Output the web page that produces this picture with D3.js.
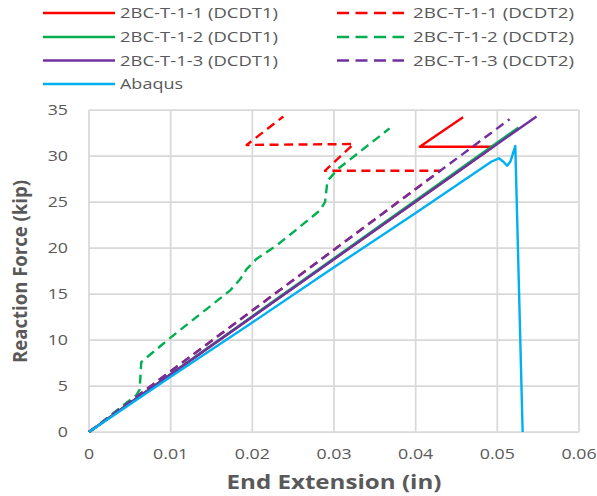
<!DOCTYPE html>
<html>
<head>
<meta charset="utf-8">
<script src="https://cdn.jsdelivr.net/npm/d3@7"></script>
<style>
  html, body { margin: 0; padding: 0; background: #fff; }
  svg { display: block; }
  text { font-family: "Open Sans", sans-serif; fill: #595959; }
</style>
</head>
<body>
<svg id="chart" width="597" height="496"></svg>
<script>
// ---- data ----
const xTicks = [0, 0.01, 0.02, 0.03, 0.04, 0.05, 0.06];
const xTickLabels = ["0", "0.01", "0.02", "0.03", "0.04", "0.05", "0.06"];
const yTicks = [0, 5, 10, 15, 20, 25, 30, 35];
const yTickLabels = ["0", "5", "10", "15", "20", "25", "30", "35"];

const seriesNames = [
  "2BC-T-1-1 (DCDT1)", "2BC-T-1-1 (DCDT2)",
  "2BC-T-1-2 (DCDT1)", "2BC-T-1-2 (DCDT2)",
  "2BC-T-1-3 (DCDT1)", "2BC-T-1-3 (DCDT2)",
  "Abaqus"
];
const seriesColors = ["#ff0000", "#ff0000", "#00b050", "#00b050", "#7030a0", "#7030a0", "#00b0f0"];
const seriesDashed = [false, true, false, true, false, true, false];

// [extension (in), force (kip)]
const t11_dcdt1 = [[0, 0], [0.0495, 31.0], [0.0405, 31.0], [0.0458, 34.2]];
const t11_dcdt2 = [[0, 0], [0.0430, 28.4], [0.0289, 28.4], [0.0324, 31.3], [0.0193, 31.2], [0.0238, 34.3]];
const t12_dcdt1 = [[0, 0], [0.0526, 33.1]];
const t12_dcdt2 = [[0, 0], [0.0058, 4.0], [0.0062, 4.6], [0.0064, 7.6], [0.0099, 10.2], [0.0173, 15.4],
                   [0.0185, 16.6], [0.0193, 17.7], [0.0205, 18.8], [0.0230, 20.3], [0.0254, 22.0],
                   [0.0283, 24.1], [0.0289, 25.0], [0.0292, 27.3], [0.0305, 28.6], [0.0368, 33.0]];
const t13_dcdt1 = [[0, 0], [0.0548, 34.3]];
const t13_dcdt2 = [[0, 0], [0.0515, 34.0]];
const abaqus = [[0, 0], [0.01, 6.0], [0.02, 11.9], [0.03, 17.9], [0.04, 23.8], [0.0493, 29.4],
                [0.0502, 29.75], [0.0507, 29.4], [0.0512, 28.95], [0.0516, 29.4], [0.0522, 31.1],
                [0.0531, 0]];

const seriesData = [t11_dcdt1, t11_dcdt2, t12_dcdt1, t12_dcdt2, t13_dcdt1, t13_dcdt2, abaqus];

// ---- drawing ----
const svg = d3.select("#chart");
const x = d3.scaleLinear().domain([0, 0.06]).range([89, 579]);
const y = d3.scaleLinear().domain([0, 35]).range([432, 110]);
const SX = 1.27; // horizontal text stretch of the reference

// grid
const grid = svg.append("g");
grid.selectAll("line.v").data(xTicks).join("line")
  .attr("x1", d => x(d)).attr("x2", d => x(d))
  .attr("y1", y(0)).attr("y2", y(35))
  .attr("stroke", "#d9d9d9").attr("stroke-width", 1.75);
grid.selectAll("line.h").data(yTicks).join("line")
  .attr("x1", x(0)).attr("x2", x(0.06))
  .attr("y1", d => y(d)).attr("y2", d => y(d))
  .attr("stroke", "#d9d9d9").attr("stroke-width", 1.75);

// tick labels
svg.append("g").selectAll("text").data(xTicks).join("text")
  .attr("transform", d => `translate(${x(d)},459) scale(${SX},1)`)
  .attr("text-anchor", "middle")
  .attr("font-size", 14)
  .text((d, i) => xTickLabels[i]);
svg.append("g").selectAll("text").data(yTicks).join("text")
  .attr("transform", d => `translate(68,${y(d) + 5}) scale(${SX},1)`)
  .attr("text-anchor", "end")
  .attr("font-size", 14)
  .text((d, i) => yTickLabels[i]);

// axis titles
svg.append("text")
  .attr("x", 334).attr("y", 489)
  .attr("text-anchor", "middle")
  .attr("font-size", 19).attr("font-weight", "bold")
  .attr("textLength", 215).attr("lengthAdjust", "spacingAndGlyphs")
  .text("End Extension (in)");
svg.append("text")
  .attr("transform", "translate(27,271.5) rotate(-90)")
  .attr("text-anchor", "middle")
  .attr("font-size", 19).attr("font-weight", "bold")
  .attr("textLength", 183).attr("lengthAdjust", "spacingAndGlyphs")
  .text("Reaction Force (kip)");

// series
const line = d3.line().x(d => x(d[0])).y(d => y(d[1]));
const plot = svg.append("g");
seriesData.forEach((data, i) => {
  plot.append("path")
    .attr("d", line(data))
    .attr("fill", "none")
    .attr("stroke", seriesColors[i])
    .attr("stroke-width", 2.4)
    .attr("stroke-linejoin", "round")
    .attr("stroke-dasharray", seriesDashed[i] ? "9,5.5" : null);
});

// legend
const legendRows = [13, 37, 60.5, 84];
const legendItems = [
  {s: 0, col: 0, row: 0}, {s: 1, col: 1, row: 0},
  {s: 2, col: 0, row: 1}, {s: 3, col: 1, row: 1},
  {s: 4, col: 0, row: 2}, {s: 5, col: 1, row: 2},
  {s: 6, col: 0, row: 3}
];
const colLine = [[43, 115], [337, 404]];
const colText = [120, 413];
const lg = svg.append("g");
legendItems.forEach(it => {
  const yy = legendRows[it.row];
  lg.append("line")
    .attr("x1", colLine[it.col][0]).attr("x2", colLine[it.col][1])
    .attr("y1", yy).attr("y2", yy)
    .attr("stroke", seriesColors[it.s]).attr("stroke-width", 2.4)
    .attr("stroke-dasharray", seriesDashed[it.s] ? "12,6.5" : null);
  const name = seriesNames[it.s];
  lg.append("text")
    .attr("x", colText[it.col]).attr("y", yy + 5)
    .attr("font-size", 14)
    .attr("textLength", name === "Abaqus" ? 63 : (it.col === 0 ? 158 : 161))
    .attr("lengthAdjust", "spacingAndGlyphs")
    .text(name);
});
</script>
</body>
</html>
